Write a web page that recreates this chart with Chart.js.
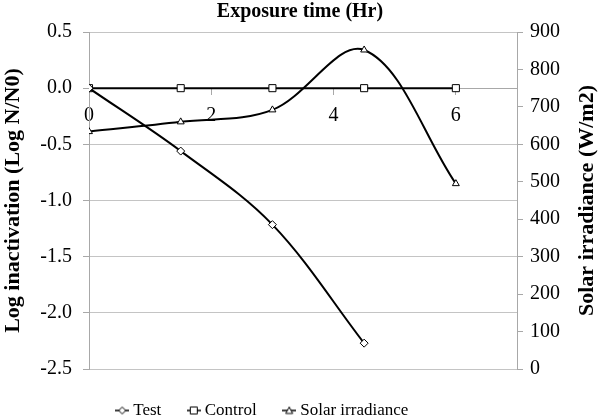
<!DOCTYPE html>
<html>
<head>
<meta charset="utf-8">
<script src="https://cdn.jsdelivr.net/npm/chart.js@4"></script>
<style>
  html, body { margin: 0; padding: 0; background: #fff; }
  #wrap { width: 600px; height: 420px; }
</style>
</head>
<body>
<div id="wrap"><canvas id="chart" width="600" height="420"></canvas></div>
<script>
/* Exposure time vs log inactivation (left) and solar irradiance (right). */

const xTicks = [0, 2, 4, 6];

const testHours = [0, 1.5, 3, 4.5];
const testLog = [0, -0.56, -1.215, -2.27];

const controlHours = [0, 1.5, 3, 4.5, 6];
const controlLog = [0, 0, 0, 0, 0];

const solarHours = [0, 1.5, 3, 4.5, 6];
const solarIrr = [634, 660, 692, 852, 495];

const SERIF = "'Liberation Serif', 'Times New Roman', serif";
const GRID = '#c4c4c4';
const AXIS = '#a8a8a8';

function pts(xs, ys) { return xs.map((x, i) => ({ x, y: ys[i] })); }

// small line + marker swatch for the legend, like the spreadsheet one
function swatch(style) {
  const c = document.createElement('canvas');
  c.width = 14; c.height = 10;
  const g = c.getContext('2d');
  g.strokeStyle = '#000';
  g.lineWidth = 1.5;
  g.beginPath(); g.moveTo(0, 5); g.lineTo(14, 5); g.stroke();
  g.fillStyle = '#fff';
  g.lineWidth = 1;
  g.beginPath();
  if (style === 'rectRot') { g.moveTo(7, 1.5); g.lineTo(10.5, 5); g.lineTo(7, 8.5); g.lineTo(3.5, 5); g.closePath(); }
  else if (style === 'rect') { g.rect(3.5, 1.5, 7, 7); }
  else { g.moveTo(7, 1.5); g.lineTo(10.5, 8); g.lineTo(3.5, 8); g.closePath(); }
  g.fill(); g.stroke();
  return c;
}

const baseLine = {
  borderColor: '#000',
  borderWidth: 2,
  backgroundColor: '#fff',
  pointBackgroundColor: '#fff',
  pointBorderColor: '#000',
  pointBorderWidth: 1,
  tension: 0.35,
  showLine: true,
};

const datasets = [
  Object.assign({}, baseLine, {
    label: 'Test', data: pts(testHours, testLog), yAxisID: 'y',
    pointStyle: 'rectRot', pointRadius: 4,
  }),
  Object.assign({}, baseLine, {
    label: 'Control', data: pts(controlHours, controlLog), yAxisID: 'y',
    pointStyle: 'rect', pointRadius: 5,
  }),
  Object.assign({}, baseLine, {
    label: 'Solar irradiance', data: pts(solarHours, solarIrr), yAxisID: 'y2',
    pointStyle: 'triangle', pointRadius: 4,
  }),
];

// right-hand title reads bottom-to-top, so it is drawn here
const rightTitle = {
  id: 'rightTitle',
  afterDraw(chart) {
    const { ctx, chartArea } = chart;
    ctx.save();
    ctx.translate(587, (chartArea.top + chartArea.bottom) / 2);
    ctx.rotate(-Math.PI / 2);
    ctx.font = `bold 22px ${SERIF}`;
    ctx.fillStyle = '#000';
    ctx.textAlign = 'center';
    ctx.textBaseline = 'middle';
    ctx.fillText('Solar irradiance (W/m2)', 0, 0);
    ctx.restore();
  },
};

// legend row sits a bit left of centre and slightly lower in the original
const legendNudge = {
  id: 'legendNudge',
  afterLayout(chart) {
    const lg = chart.legend;
    lg.left -= 36; lg.right -= 36;
    lg.top += 3; lg.bottom += 3;
  },
};

new Chart(document.getElementById('chart'), {
  type: 'scatter',
  data: { datasets },
  plugins: [rightTitle, legendNudge],
  options: {
    responsive: false,
    animation: false,
    layout: { padding: { top: 0, left: 0, right: 0, bottom: -6 } },
    plugins: {
      title: {
        display: true,
        text: 'Exposure time (Hr)',
        color: '#000',
        font: { family: SERIF, size: 20, weight: 'bold' },
        padding: { top: 0, bottom: 8 },
      },
      legend: {
        position: 'bottom',
        labels: {
          color: '#000',
          font: { family: SERIF, size: 17 },
          usePointStyle: true,
          pointStyleWidth: 5,
          padding: 30,
          generateLabels(chart) {
            return chart.data.datasets.map((ds, i) => ({
              text: ds.label,
              pointStyle: swatch(ds.pointStyle),
              fontColor: '#000',
              lineWidth: 0,
              hidden: false,
              datasetIndex: i,
            }));
          },
        },
      },
      tooltip: { enabled: false },
    },
    scales: {
      x: {
        type: 'linear',
        position: { y: 0 },
        min: 0,
        max: 7,
        afterBuildTicks(scale) { scale.ticks = xTicks.map((v) => ({ value: v })); },
        grid: { drawOnChartArea: false, color: AXIS, tickLength: 6 },
        border: { color: AXIS },
        ticks: { color: '#000', font: { family: SERIF, size: 20 }, padding: 10 },
      },
      y: {
        position: 'left',
        min: -2.5,
        max: 0.5,
        afterFit(scale) { scale.width = 89; },
        grid: { color: GRID, tickLength: 6, tickColor: AXIS },
        border: { color: AXIS },
        ticks: {
          stepSize: 0.5,
          color: '#000',
          font: { family: SERIF, size: 20 },
          padding: 11,
          callback: (v) => v.toFixed(1),
        },
        title: {
          display: true,
          text: 'Log inactivation (Log N/N0)',
          color: '#000',
          font: { family: SERIF, size: 22, weight: 'bold' },
          padding: { top: 0, bottom: 0 },
        },
      },
      y2: {
        position: 'right',
        min: 0,
        max: 900,
        afterFit(scale) { scale.width = 83; },
        grid: { drawOnChartArea: false, color: AXIS, tickLength: 6 },
        border: { color: AXIS },
        ticks: {
          stepSize: 100,
          color: '#000',
          font: { family: SERIF, size: 20 },
          padding: 7,
        },
      },
    },
  },
});
</script>
</body>
</html>
